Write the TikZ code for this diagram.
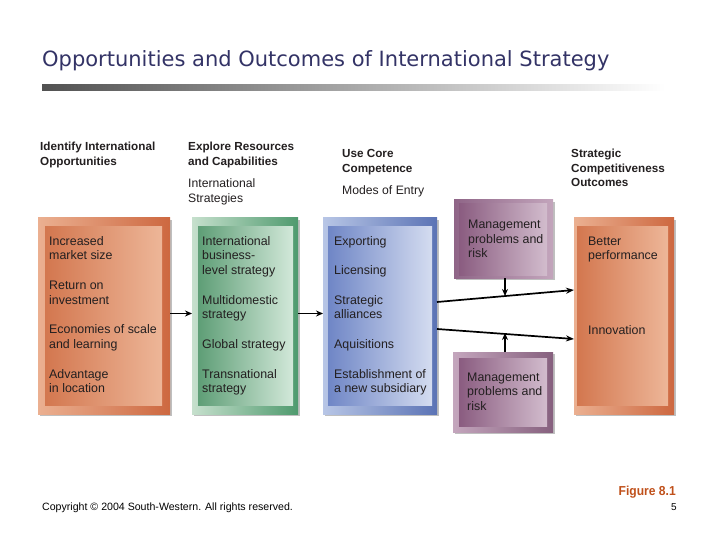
\documentclass[tikz,border=0pt]{standalone}
\usepackage{fontspec}
\setmainfont{Liberation Sans}
\newfontfamily\titlefont{DejaVu Sans}
\usetikzlibrary{arrows.meta,shadows}
\definecolor{txt}{HTML}{231F20}
\definecolor{titleblue}{HTML}{333366}
\definecolor{figred}{HTML}{C0501A}
\newcommand{\mlines}[1]{\begin{tabular}[t]{@{}l@{}}#1\end{tabular}}
\begin{document}
\begin{tikzpicture}[x=1pt,y=-1pt,
  boxbase/.style={anchor=north west, inner sep=0pt, outer sep=0pt},
  outerbox/.style={boxbase, drop shadow={shadow xshift=2pt, shadow yshift=-2pt, opacity=0.25, fill=black}},
  orgout/.style={outerbox, left color=orange1L, right color=orange1R},
  orgin/.style={boxbase, left color=orange2L, right color=orange2R},
  grnout/.style={outerbox, left color=green1L, right color=green1R},
  grnin/.style={boxbase, left color=green2L, right color=green2R},
  bluout/.style={outerbox, left color=blue1L, right color=blue1R},
  bluin/.style={boxbase, left color=blue2L, right color=blue2R},
  purout/.style={outerbox, left color=purple1L, right color=purple1R},
  purin/.style={boxbase, left color=purple2L, right color=purple2R},
  boxtext/.style={anchor=base west, inner sep=0pt, text=txt, font=\fontsize{12.4}{14.6}\selectfont},
  headb/.style={anchor=base west, inner sep=0pt, text=txt, font=\fontsize{11.7}{14.4}\selectfont\bfseries},
  headn/.style={anchor=base west, inner sep=0pt, text=txt, font=\fontsize{12.2}{14.6}\selectfont},
  conn/.style={draw=black, line width=1.7pt, -{Stealth[length=8pt,width=6pt]}},
  connshort/.style={draw=black, line width=1.7pt, -{Stealth[length=7pt,width=6pt]}}
]
\definecolor{orange1L}{HTML}{EBB091}\definecolor{orange1R}{HTML}{CD6840}
\definecolor{orange2L}{HTML}{D3774F}\definecolor{orange2R}{HTML}{EDB698}
\definecolor{green1L}{HTML}{C6E0CD}\definecolor{green1R}{HTML}{4F9A6E}
\definecolor{green2L}{HTML}{5E9E76}\definecolor{green2R}{HTML}{D2E8D9}
\definecolor{blue1L}{HTML}{B8C6E6}\definecolor{blue1R}{HTML}{5B73B5}
\definecolor{blue2L}{HTML}{6F86C6}\definecolor{blue2R}{HTML}{D4DCF0}
\definecolor{purple1L}{HTML}{C4A6BD}\definecolor{purple1R}{HTML}{86607E}
\definecolor{purple2L}{HTML}{8A5C80}\definecolor{purple2R}{HTML}{D2BCCD}
\definecolor{purpleTL}{HTML}{8F6587}\definecolor{purpleTR}{HTML}{C3A5BC}

\useasboundingbox[fill=white] (0,0) rectangle (720,540);

% title and bar
\node[anchor=base west, inner sep=0pt, text=titleblue, font=\titlefont\fontsize{21}{24}\selectfont] (title) at (42,67) {Opportunities and Outcomes of International Strategy};
\path[left color=black!68, right color=white] (42,85) rectangle (665,91);

% headers
\node[headb] (h1) at (40,151) {\mlines{Identify International\\Opportunities}};
\node[headb] (h2) at (188,151) {\mlines{Explore Resources\\and Capabilities}};
\node[headn] (h2b) at (188,188) {\mlines{International\\Strategies}};
\node[headb] (h3) at (342,158) {\mlines{Use Core\\Competence}};
\node[headn] (h3b) at (342,194.5) {Modes of Entry};
\node[headb] (h4) at (571,158) {\mlines{Strategic\\Competitiveness\\Outcomes}};

% boxes
\node[orgout, minimum width=132pt, minimum height=196pt] (opp) at (38,218) {};
\node[orgin, minimum width=117pt, minimum height=178pt] (oppin) at (45,227) {};
\node[grnout, minimum width=106pt, minimum height=196pt] (res) at (192,218) {};
\node[grnin, minimum width=95pt, minimum height=178pt] (resin) at (198,227) {};
\node[bluout, minimum width=114pt, minimum height=196pt] (entry) at (323,218) {};
\node[bluin, minimum width=104pt, minimum height=178pt] (entryin) at (328,227) {};
\node[outerbox, left color=purpleTL, right color=purpleTR, minimum width=99pt, minimum height=78pt] (mgt1) at (454,200) {};
\node[purin, minimum width=88pt, minimum height=71pt] (mgt1in) at (459,204) {};
\node[purout, minimum width=100pt, minimum height=80pt] (mgt2) at (453,352) {};
\node[purin, minimum width=88pt, minimum height=68pt] (mgt2in) at (459,358) {};
\node[orgout, minimum width=100pt, minimum height=196pt] (out) at (574,218) {};
\node[orgin, minimum width=91pt, minimum height=178pt] (outin) at (577,227) {};

% box texts
\node[boxtext] (t11) at (49,245) {\mlines{Increased\\market size}};
\node[boxtext] (t12) at (49,289.5) {\mlines{Return on\\investment}};
\node[boxtext] (t13) at (49,333.5) {\mlines{Economies of scale\\and learning}};
\node[boxtext] (t14) at (49,378) {\mlines{Advantage\\in location}};

\node[boxtext] (t21) at (202,245) {\mlines{International\\business-\\level strategy}};
\node[boxtext] (t22) at (202,304) {\mlines{Multidomestic\\strategy}};
\node[boxtext] (t23) at (202,348) {Global strategy};
\node[boxtext] (t24) at (202,378) {\mlines{Transnational\\strategy}};

\node[boxtext] (t31) at (334,245) {Exporting};
\node[boxtext] (t32) at (334,274.5) {Licensing};
\node[boxtext] (t33) at (334,304) {\mlines{Strategic\\alliances}};
\node[boxtext] (t34) at (334,348) {Aquisitions};
\node[boxtext] (t35) at (334,378) {\mlines{Establishment of\\a new subsidiary}};

\node[boxtext] (t41) at (468,228.5) {\mlines{Management\\problems and\\risk}};
\node[boxtext] (t51) at (467,381) {\mlines{Management\\problems and\\risk}};

\node[boxtext] (t61) at (588,245) {\mlines{Better\\performance}};
\node[boxtext] (t62) at (588,334) {Innovation};

% connectors
\coordinate (a1s) at (opp.east |- 0,313.5);
\coordinate (a1e) at (res.west |- 0,313.5);
\draw[connshort] (a1s) -- (a1e);
\coordinate (a2s) at (res.east |- 0,313.5);
\coordinate (a2e) at (entry.west |- 0,313.5);
\draw[connshort] (a2s) -- (a2e);

\coordinate (l1s) at (entry.east |- 0,302);
\coordinate (l1e) at (out.west |- 0,290);
\draw[conn] (l1s) -- (l1e);
\coordinate (l2s) at (entry.east |- 0,329);
\coordinate (l2e) at (out.west |- 0,339);
\draw[conn] (l2s) -- (l2e);

\coordinate (v1s) at (505,278);
\coordinate (v1e) at (505,296);
\draw[connshort] (v1s) -- (v1e);
\coordinate (v2s) at (505,352);
\coordinate (v2e) at (505,333);
\draw[connshort] (v2s) -- (v2e);

% footer
\node[anchor=base west, inner sep=0pt, font=\fontsize{10.6}{12}\selectfont, text=black] (copy) at (42,510) {Copyright \textcopyright{} 2004 South-Western. All rights reserved.};
\node[anchor=base east, inner sep=0pt, font=\fontsize{13}{15}\selectfont\bfseries, text=figred] (fig) at (676,495) {\scalebox{0.93}[1]{Figure 8.1}};
\node[anchor=base east, inner sep=0pt, font=\fontsize{10}{11}\selectfont, text=black] (pg) at (677,510) {5};
\end{tikzpicture}
\end{document}
